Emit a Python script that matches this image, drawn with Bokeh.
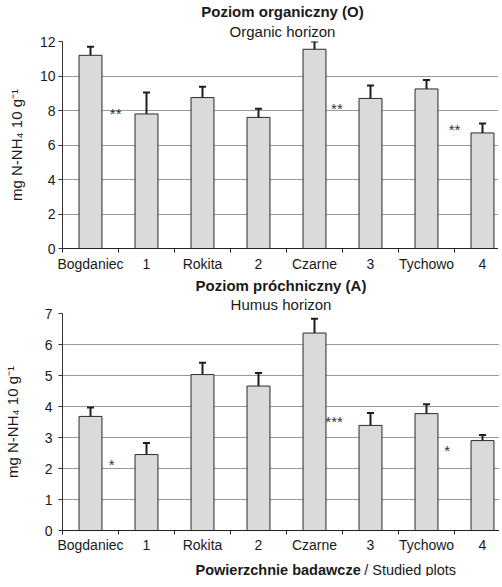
from bokeh.plotting import figure
from bokeh.models import (ColumnDataSource, Range1d, FixedTicker, Whisker, TeeHead, Title,
                          Plot, Text)
from bokeh.layouts import column
from bokeh.core.properties import value
from bokeh.embed import file_html
from bokeh.resources import INLINE

# ---------------- data ----------------
plots = ["Bogdaniec", "1", "Rokita", "2", "Czarne", "3", "Tychowo", "4"]

organic_mean = [11.2, 7.8, 8.75, 7.6, 11.55, 8.7, 9.25, 6.7]
organic_err = [0.5, 1.25, 0.63, 0.5, 0.45, 0.75, 0.52, 0.55]

humus_mean = [3.68, 2.45, 5.03, 4.66, 6.37, 3.39, 3.77, 2.9]
humus_err = [0.29, 0.37, 0.38, 0.42, 0.46, 0.40, 0.30, 0.18]

organic_sig = ["**", "**", "**"]
organic_sig_x = [0.95, 4.9, 7.0]
organic_sig_y = [8.05, 8.37, 7.12]

humus_sig = ["*", "***", "*"]
humus_sig_x = [0.88, 4.85, 6.87]
humus_sig_y = [2.25, 3.63, 2.7]

organic_ticks = [0, 2, 4, 6, 8, 10, 12]
humus_ticks = [0, 1, 2, 3, 4, 5, 6, 7]

FONT = "Liberation Sans"
YLABEL = "mg N-NH\u2084 10 g\u207b\u00b9"
XTITLE_BOLD = "Powierzchnie badawcze"
XTITLE_NORM = "/ Studied plots"


def make_panel(means, errs, sig, sig_x, sig_y, yticks, ymax, title_bold, title_norm,
               frame_w, frame_h, b_left, b_top, b_bottom, tick_standoff, label_standoff,
               xlabel_standoff, title_offset, sub_standoff):
    n = len(plots)
    xs = [i + 0.5 for i in range(n)]
    src = ColumnDataSource(dict(
        x=xs, top=means,
        upper=[m + e for m, e in zip(means, errs)],
        lower=[m - e for m, e in zip(means, errs)],
    ))
    p = figure(frame_width=frame_w, frame_height=frame_h,
               x_range=Range1d(0, frame_w / 56.0), y_range=Range1d(0, ymax),
               output_backend="svg", toolbar_location=None,
               min_border_left=b_left, min_border_right=0,
               min_border_top=b_top, min_border_bottom=b_bottom)
    p.outline_line_color = None
    p.background_fill_color = "white"
    p.border_fill_color = "white"

    p.xgrid.grid_line_color = None
    p.ygrid.grid_line_color = "#9a9a9a"
    p.ygrid.grid_line_width = 1

    p.vbar(x="x", top="top", width=0.41, source=src,
           fill_color="#dadada", line_color="#2a2a2a", line_width=1)

    head_up = TeeHead(size=7, line_width=2, line_color="#1e1e1e")
    head_lo = TeeHead(size=7, line_width=2, line_color="#1e1e1e")
    p.add_layout(Whisker(base="x", upper="upper", lower="lower", source=src,
                         line_color="#1e1e1e", line_width=2,
                         upper_head=head_up, lower_head=head_lo))

    ssrc = ColumnDataSource(dict(x=sig_x, y=sig_y, t=sig))
    p.text(x="x", y="y", text="t", source=ssrc, text_align="center",
           text_baseline="middle", y_offset=4,
           text_font=value(FONT), text_font_size="15px", text_color="#333333")

    xa = p.xaxis[0]
    xa.ticker = FixedTicker(ticks=xs, minor_ticks=list(range(0, n + 1)))
    xa.major_label_overrides = {x: lab for x, lab in zip(xs, plots)}
    xa.major_tick_line_color = None
    xa.major_tick_out = 4
    xa.major_tick_in = 0
    xa.minor_tick_line_color = "#222222"
    xa.minor_tick_out = 4
    xa.minor_tick_in = 0
    xa.axis_line_color = "#222222"
    xa.axis_label_standoff = 0
    xa.major_label_standoff = xlabel_standoff
    xa.major_label_text_font = FONT
    xa.major_label_text_font_size = "14px"
    xa.major_label_text_color = "#1a1a1a"

    ya = p.yaxis[0]
    ya.ticker = FixedTicker(ticks=yticks)
    ya.minor_tick_line_color = None
    ya.major_tick_out = 4
    ya.major_tick_in = 0
    ya.major_tick_line_color = "#333333"
    ya.axis_line_color = "#333333"
    ya.major_label_standoff = tick_standoff
    ya.major_label_text_font = FONT
    ya.major_label_text_font_size = "14px"
    ya.major_label_text_color = "#1a1a1a"
    ya.axis_label = YLABEL
    ya.axis_label_text_font = FONT
    ya.axis_label_text_font_style = "normal"
    ya.axis_label_text_font_size = "15px"
    ya.axis_label_text_color = "#1a1a1a"
    ya.axis_label_standoff = label_standoff

    p.add_layout(Title(text=title_norm, align="center", offset=title_offset,
                       standoff=sub_standoff, text_font=FONT, text_font_style="normal",
                       text_font_size="15px", text_color="#1a1a1a"), "above")
    p.add_layout(Title(text=title_bold, align="center", offset=title_offset,
                       standoff=0, text_font=FONT, text_font_style="bold",
                       text_font_size="15px", text_color="#1a1a1a"), "above")
    return p


p1 = make_panel(organic_mean, organic_err, organic_sig, organic_sig_x, organic_sig_y,
                organic_ticks, 12, "Poziom organiczny (O)", "Organic horizon",
                frame_w=440, frame_h=207, b_left=54, b_top=40, b_bottom=24,
                tick_standoff=3, label_standoff=12, xlabel_standoff=3,
                title_offset=4, sub_standoff=3)

p2 = make_panel(humus_mean, humus_err, humus_sig, humus_sig_x, humus_sig_y,
                humus_ticks, 7, "Poziom próchniczny (A)", "Humus horizon",
                frame_w=437, frame_h=217, b_left=57, b_top=39, b_bottom=23,
                tick_standoff=6, label_standoff=21, xlabel_standoff=2,
                title_offset=5, sub_standoff=1)

# strip below holding the x-axis title (bold part + normal part)
H3 = 21
p3 = Plot(title=None, width=494, height=H3, x_range=Range1d(0, 494),
          y_range=Range1d(0, H3), output_backend="svg", toolbar_location=None,
          min_border=0, outline_line_color=None)
p3.add_glyph(ColumnDataSource(dict(x=[341], y=[6.5], t=[XTITLE_BOLD])),
             Text(x="x", y="y", text="t", text_align="right", text_baseline="alphabetic",
                  text_font=value(FONT), text_font_style="bold",
                  text_font_size="14.5px", text_color="#1a1a1a"))
p3.add_glyph(ColumnDataSource(dict(x=[345], y=[6.5], t=[XTITLE_NORM])),
             Text(x="x", y="y", text="t", text_align="left", text_baseline="alphabetic",
                  text_font=value(FONT), text_font_style="normal",
                  text_font_size="14.5px", text_color="#1a1a1a"))

layout = column(p1, p2, p3, spacing=0)
open("out.html", "w").write(file_html(layout, INLINE))
